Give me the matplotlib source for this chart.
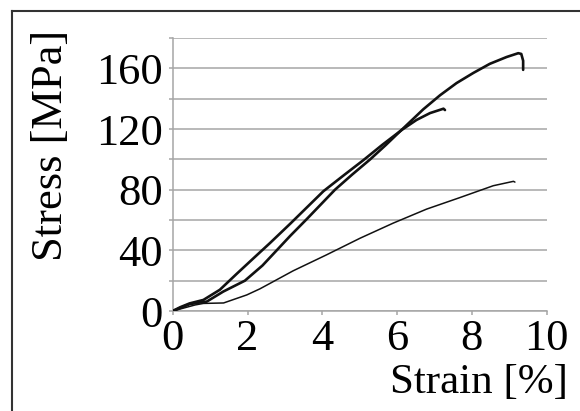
import matplotlib
matplotlib.use('Agg')
import matplotlib.pyplot as plt
from matplotlib.lines import Line2D

plt.rcParams['font.family'] = ['Liberation Serif', 'DejaVu Serif']

# curva que llega a 170 MPa (gruesa)
strain_a = [0, 0.2, 0.45, 0.7, 0.91, 1.35, 1.93, 2.4, 2.78, 3.14, 3.58, 4.34, 4.8, 5.28,
            5.7, 6.08, 6.70, 7.15, 7.59, 8.04, 8.48, 8.93, 9.24, 9.32, 9.37, 9.37]
stress_a = [0, 2, 4.5, 5.5, 6.2, 12.8, 20, 30, 40, 49.5, 60.5, 80, 90, 100,
            109.5, 118.5, 133, 142.3, 150.3, 157, 163, 167.5, 170, 169.5, 165, 159]

# curva que termina en 7.3 % (gruesa)
strain_b = [0, 0.2, 0.45, 0.82, 1.26, 1.71, 2.16, 2.6, 3.14, 4.03, 4.6, 5.10, 5.6,
            6.13, 6.52, 6.88, 7.24, 7.28]
stress_b = [0, 2.5, 5, 7.3, 14, 24.5, 34.8, 44.8, 57.5, 79, 90, 99.5, 109.5,
            119.5, 126, 130.5, 133.4, 132.5]

# curva delgada
strain_c = [0, 0.3, 0.6, 0.82, 1.36, 1.98, 2.33, 2.6, 3.22, 4.11, 5.01, 5.9, 6.79,
            7.68, 8.57, 9.11, 9.15]
stress_c = [0, 2, 4, 5, 5.3, 10.6, 14.6, 18.2, 26.5, 37, 48, 58, 67.2,
            74.8, 82.6, 85.5, 85]

yticks = [0, 20, 40, 60, 80, 100, 120, 140, 160, 180]
ylabels = ['0', '', '40', '', '80', '', '120', '', '160', '']
xticks = [0, 2, 4, 6, 8, 10]

fig = plt.figure(figsize=(5.8, 4.11), dpi=100)
ax = fig.add_axes([0.2978, 0.2433, 0.6448, 0.6642])

grid_col = '#a6a6a6'
for y in yticks:
    ax.axhline(y, color=grid_col, linewidth=1.1, zorder=1)

estilo = dict(color='#111111', solid_joinstyle='round', solid_capstyle='round', zorder=3)
ax.plot(strain_c, stress_c, linewidth=1.1, **estilo)
ax.plot(strain_b, stress_b, linewidth=1.9, **estilo)
ax.plot(strain_a, stress_a, linewidth=1.9, **estilo)

ax.set_xlim(0, 10)
ax.set_ylim(0, 180)
ax.set_yticks(yticks)
ax.set_yticklabels(ylabels)
ax.set_xticks(xticks)
ax.set_xticklabels([str(x) for x in xticks])

for s in ['top', 'right']:
    ax.spines[s].set_visible(False)
for s in ['left', 'bottom']:
    ax.spines[s].set_color(grid_col)
    ax.spines[s].set_linewidth(1.1)

ax.tick_params(axis='both', colors=grid_col, labelcolor='black', labelsize=32,
               length=3, width=1.1)
ax.tick_params(axis='y', pad=4)
ax.tick_params(axis='x', pad=3)

fig.text(51 / 580, 0.645, 'Stress [MPa]', rotation=90, fontsize=32,
         ha='center', va='center')
fig.text(568 / 580, 0.044, 'Strain [%]', fontsize=31, ha='right', va='baseline')

# marco exterior
fig.add_artist(Line2D([12 / 580, 12 / 580], [0, 1 - 11 / 411], color='#333333',
                      linewidth=1.5, transform=fig.transFigure))
fig.add_artist(Line2D([12 / 580, 1], [1 - 11 / 411, 1 - 11 / 411], color='#333333',
                      linewidth=1.5, transform=fig.transFigure))

fig.savefig('out.png', dpi=100)
